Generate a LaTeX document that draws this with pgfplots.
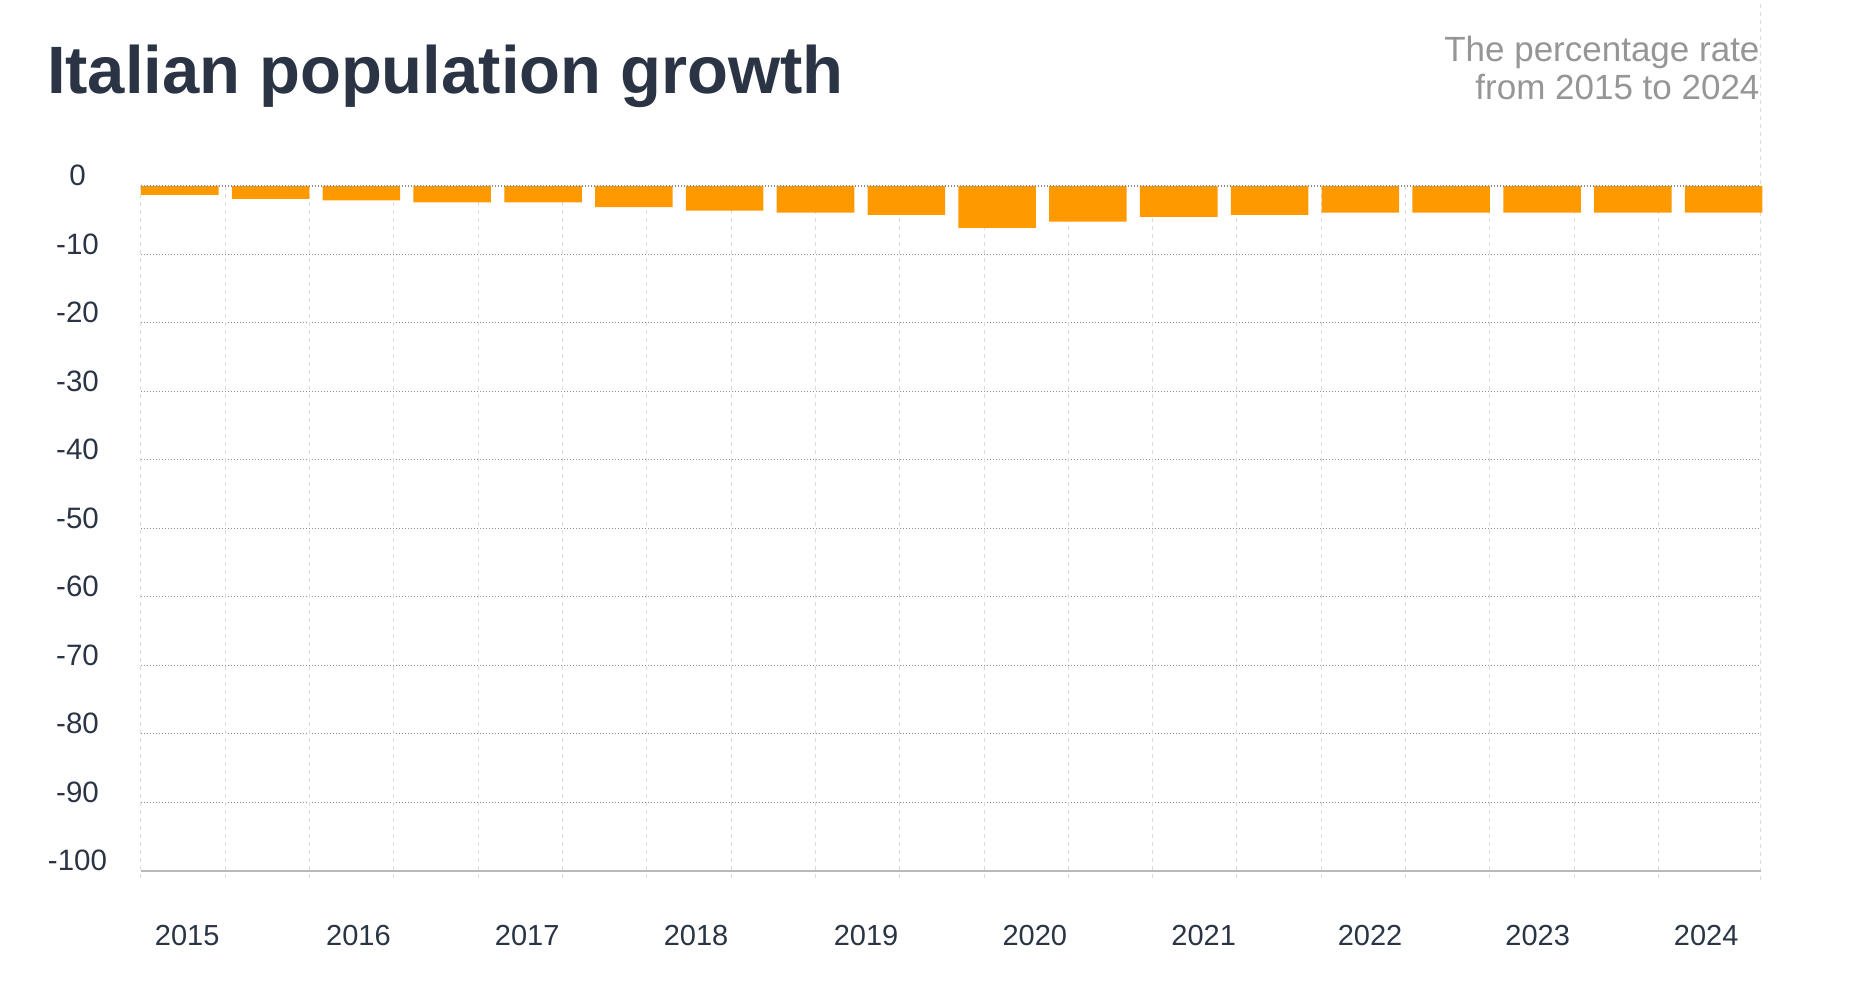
\documentclass[border=0pt]{standalone}
\usepackage{fontspec}
\setmainfont{Liberation Sans}
\usepackage{pgfplots}
\usepackage{pgfplotstable}
\pgfplotsset{compat=1.18}
\definecolor{barorange}{RGB}{255,153,0}
\definecolor{titlecol}{RGB}{42,52,68}
\definecolor{subcol}{RGB}{150,150,150}
\definecolor{hgrid}{RGB}{140,140,140}
\definecolor{vgrid}{RGB}{220,220,220}
\definecolor{axiscol}{RGB}{185,185,185}
\pgfplotstableread{
x y
39 -1.3
130.35 -1.9
221.7 -2.1
313.05 -2.4
404.4 -2.4
495.75 -3.1
587.1 -3.6
678.45 -3.9
769.8 -4.2
861.15 -6.1
952.5 -5.2
1043.85 -4.5
1135.2 -4.2
1226.55 -3.9
1317.9 -3.9
1409.25 -3.9
1500.6 -3.9
1591.95 -3.9
}\growth
\begin{document}
\begin{tikzpicture}
\path[use as bounding box] (0,0) rectangle (747.6pt,392.8pt);
\node[anchor=base west, inner sep=0, font=\fontsize{26.8}{30}\selectfont\bfseries, text=titlecol] at (18.6pt,355.2pt) {Italian population growth};
\node[anchor=base east, inner sep=0, font=\fontsize{14}{16}\selectfont, text=subcol] at (704pt,368.12pt) {The percentage rate};
\node[anchor=base east, inner sep=0, font=\fontsize{14}{16}\selectfont, text=subcol] at (704pt,352.8pt) {from 2015 to 2024};
\begin{axis}[
  at={(56.4pt,44.4pt)}, anchor=south west,
  scale only axis, width=647.8pt, height=274pt,
  xmin=0, xmax=1629, ymin=-100, ymax=0,
  clip=false,
  axis line style={draw=none},
  major tick length=0pt, minor tick length=0pt,
  ytick={0,-10,-20,-30,-40,-50,-60,-70,-80,-90,-100},
  /pgf/number format/assume math mode=true,
  yticklabel style={anchor=base, xshift=-25.4pt, font=\fontsize{11.8}{13}\selectfont, text=titlecol},
  xtick={46.5,218.7,388.5,558.3,729.3,899.1,1068.9,1236.3,1404.9,1574.4},
  xticklabels={2015,2016,2017,2018,2019,2020,2021,2022,2023,2024},
  xticklabel style={anchor=base, yshift=-30pt, font=\fontsize{11.6}{13}\selectfont, text=titlecol},
  ymajorgrids,
  major grid style={hgrid, line width=0.4pt, dash pattern=on 0.4pt off 0.8pt},
  ybar, bar width=78,
]
\pgfplotsinvokeforeach{0,84.8,169.6,254.4,339.2,424,508.8,593.6,678.4,763.2,848,932.8,1017.6,1102.4,1187.2,1272,1356.8,1441.6,1526.4}{
  \draw[vgrid, line width=0.4pt, dash pattern=on 1.6pt off 1.6pt] (axis cs:#1,0) -- (axis cs:#1,-101.3);
}
\draw[vgrid, line width=0.4pt, dash pattern=on 1.6pt off 1.6pt] (axis cs:1629,-101.3) -- (axis cs:1629,27.1);
\addplot[fill=barorange, draw=none] table[x=x,y=y] {\growth};
\draw[hgrid, line width=0.5pt, dash pattern=on 0.4pt off 0.8pt] (axis cs:0,0) -- (axis cs:1629,0);
\draw[axiscol, line width=0.8pt] (axis cs:0,-100) -- (axis cs:1629,-100);
\end{axis}
\end{tikzpicture}
\end{document}
